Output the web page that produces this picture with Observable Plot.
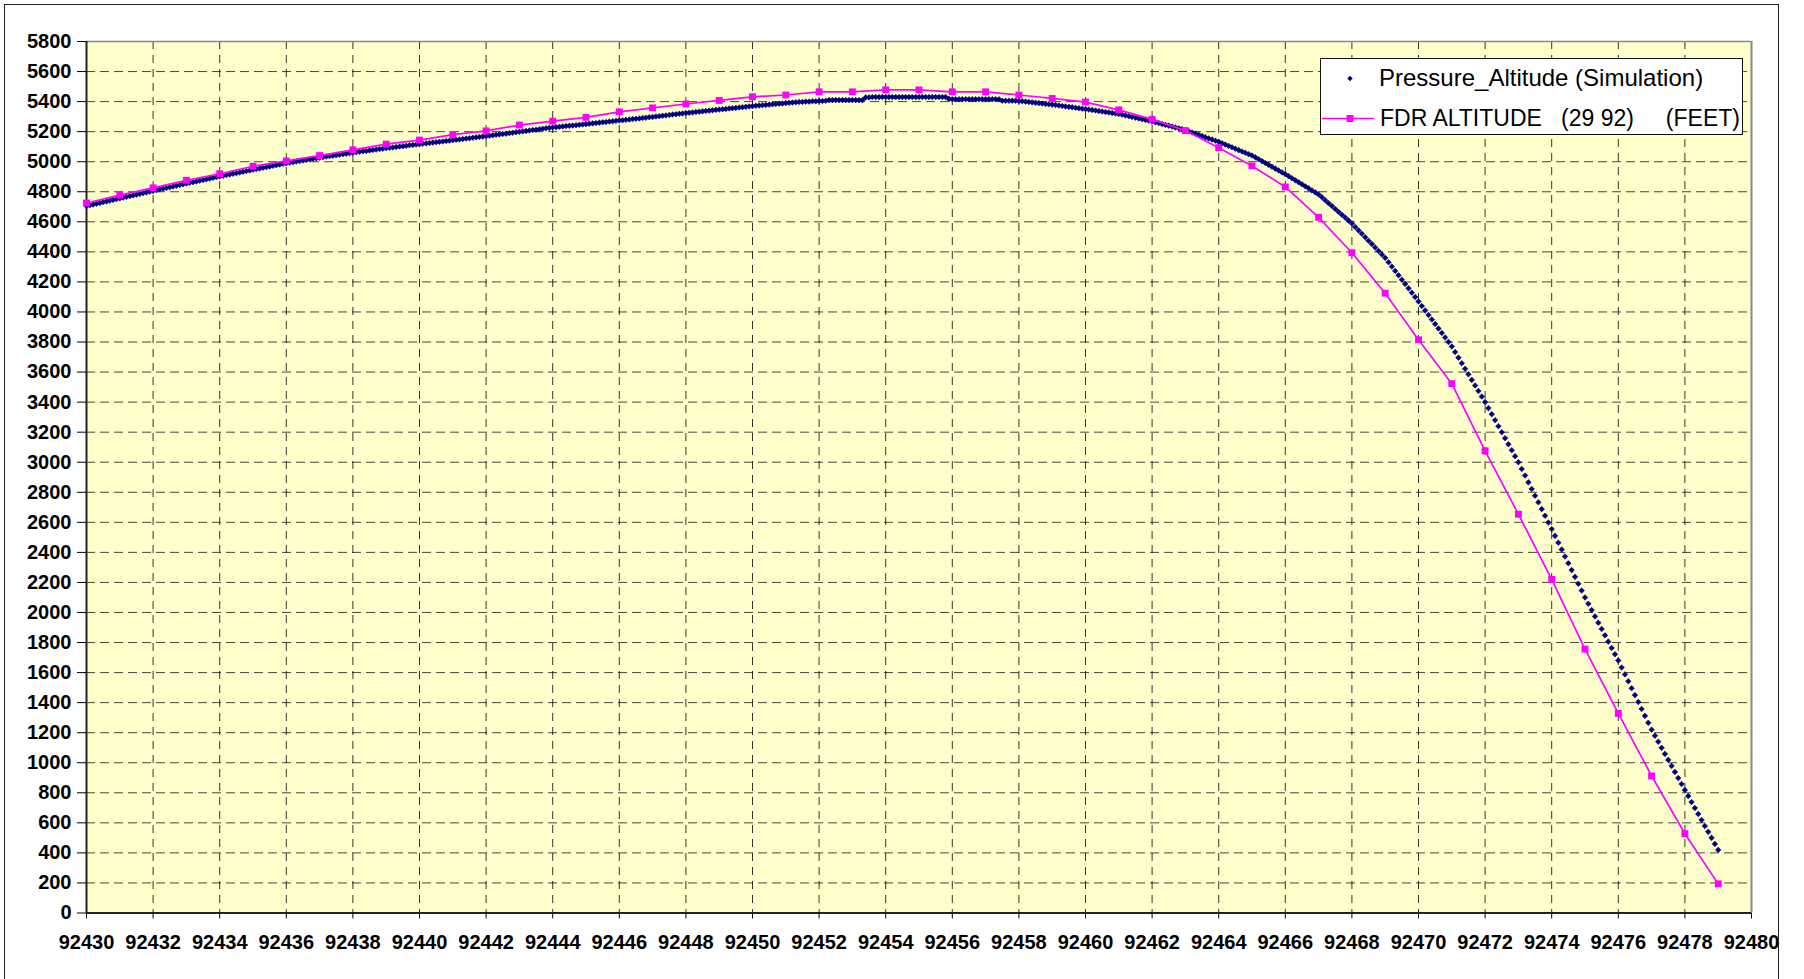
<!DOCTYPE html>
<html>
<head>
<meta charset="utf-8">
<script src="https://cdn.jsdelivr.net/npm/d3@7"></script>
<script src="https://cdn.jsdelivr.net/npm/@observablehq/plot@0.6"></script>
<style>
  html, body { margin: 0; padding: 0; background: #fff; }
  #wrap { position: relative; width: 1804px; height: 979px; overflow: hidden; font-family: "Liberation Sans", Arial, sans-serif; }
  #frame { position: absolute; left: 4px; top: 4px; width: 1775px; height: 1100px; border: 1.5px solid #222; box-sizing: border-box; pointer-events: none; }
  #legend { position: absolute; left: 1320px; top: 58px; width: 423px; height: 77px; background: #fff; border: 1px solid #111; box-sizing: border-box; }
  .lt { position: absolute; color: #000; white-space: pre; line-height: 1; }
  #chart { position: absolute; left: 0; top: 0; }
</style>
</head>
<body>
<div id="wrap">
  <div id="chart"></div>
  <div id="frame"></div>
  <div id="legend">
    <svg width="60" height="77" style="position:absolute;left:0;top:0;overflow:visible">
      <path d="M29,16.8 L31.7,19.5 L29,22.2 L26.3,19.5 Z" fill="#000080"></path>
      <line x1="1" x2="53" y1="59.5" y2="59.5" stroke="#ff00ff" stroke-width="1.7"></line>
      <rect x="25.5" y="56" width="7" height="7" fill="#ff00ff"></rect>
    </svg>
    <div class="lt" style="left:58px;top:7px;font-size:24px">Pressure_Altitude (Simulation)</div>
    <div class="lt" style="left:59px;top:47.5px;font-size:23px">FDR ALTITUDE   (29 92)     (FEET)</div>
  </div>
</div>
<script>
// ---- data ----
const xTicks = [92430, 92432, 92434, 92436, 92438, 92440, 92442, 92444, 92446, 92448, 92450, 92452, 92454, 92456, 92458, 92460, 92462, 92464, 92466, 92468, 92470, 92472, 92474, 92476, 92478, 92480];
const yTicks = [0, 200, 400, 600, 800, 1000, 1200, 1400, 1600, 1800, 2000, 2200, 2400, 2600, 2800, 3000, 3200, 3400, 3600, 3800, 4000, 4200, 4400, 4600, 4800, 5000, 5200, 5400, 5600, 5800];

const fdrTime = [92430, 92431, 92432, 92433, 92434, 92435, 92436, 92437, 92438, 92439,
                 92440, 92441, 92442, 92443, 92444, 92445, 92446, 92447, 92448, 92449,
                 92450, 92451, 92452, 92453, 92454, 92455, 92456, 92457, 92458, 92459,
                 92460, 92461, 92462, 92463, 92464, 92465, 92466, 92467, 92468, 92469,
                 92470, 92471, 92472, 92473, 92474, 92475, 92476, 92477, 92478, 92479];
const fdrAlt = [4725, 4778, 4826, 4876, 4920, 4970, 5005, 5041, 5079, 5117,
                5144, 5180, 5205, 5244, 5270, 5295, 5332, 5358, 5384, 5408,
                5432, 5444, 5465, 5465, 5478, 5478, 5465, 5465, 5444, 5421,
                5397, 5345, 5282, 5207, 5093, 4972, 4832, 4630, 4394, 4125,
                3815, 3523, 3076, 2654, 2220, 1756, 1328, 912, 528, 194];

// simulation samples every 0.1 from 92430.0 to 92479.0
const simStart = 92430;
const simStep = 0.1;
const simAlt = [
4705,4710,4715,4720,4726,4731,4736,4741,4746,4751,
4756,4761,4766,4771,4776,4781,4786,4791,4796,4801,
4806,4811,4816,4821,4825,4830,4835,4840,4845,4850,
4855,4860,4864,4869,4874,4878,4883,4888,4893,4897,
4902,4906,4911,4915,4920,4924,4929,4933,4938,4942,
4947,4951,4955,4960,4964,4968,4973,4977,4981,4986,
4990,4994,4997,5001,5005,5008,5012,5016,5020,5023,
5027,5030,5034,5037,5040,5043,5047,5050,5053,5057,
5060,5063,5066,5069,5072,5075,5078,5081,5084,5087,
5090,5093,5095,5098,5101,5103,5106,5109,5111,5114,
5117,5120,5122,5125,5127,5130,5133,5135,5138,5140,
5143,5146,5148,5151,5154,5156,5159,5162,5165,5167,
5170,5173,5176,5179,5182,5184,5187,5190,5193,5196,
5199,5202,5205,5208,5211,5213,5216,5219,5222,5225,
5228,5230,5232,5235,5237,5239,5241,5243,5246,5248,
5250,5252,5255,5257,5260,5262,5264,5267,5269,5272,
5274,5276,5279,5281,5284,5286,5288,5291,5293,5296,
5298,5301,5303,5306,5308,5311,5314,5316,5319,5321,
5324,5326,5328,5331,5333,5335,5338,5340,5342,5345,
5347,5349,5351,5354,5356,5358,5361,5363,5365,5368,
5370,5372,5374,5376,5378,5380,5382,5384,5386,5388,
5390,5392,5394,5396,5398,5398,5400,5400,5402,5402,
5404,5404,5406,5410,5410,5410,5410,5410,5410,5410,
5410,5410,5410,5410,5428,5428,5430,5430,5430,5430,
5430,5430,5430,5430,5430,5430,5430,5430,5430,5430,
5430,5430,5430,5430,5430,5430,5430,5430,5430,5418,
5416,5416,5416,5416,5416,5416,5416,5416,5416,5416,
5416,5416,5416,5416,5416,5406,5406,5406,5406,5406,
5404,5402,5400,5398,5395,5392,5390,5387,5384,5382,
5380,5377,5374,5371,5368,5365,5362,5359,5356,5353,
5350,5347,5344,5341,5337,5334,5331,5328,5324,5321,
5318,5313,5308,5303,5298,5293,5288,5283,5278,5273,
5268,5262,5257,5251,5245,5240,5234,5228,5222,5217,
5211,5203,5195,5187,5179,5171,5163,5155,5148,5140,
5132,5123,5114,5105,5096,5086,5077,5068,5059,5050,
5041,5029,5016,5004,4991,4979,4967,4954,4942,4929,
4917,4904,4890,4877,4863,4850,4836,4823,4809,4796,
4782,4763,4743,4724,4705,4685,4666,4647,4628,4608,
4589,4566,4543,4520,4497,4474,4452,4429,4406,4383,
4360,4331,4302,4273,4244,4215,4186,4157,4128,4099,
4070,4040,4010,3980,3950,3920,3890,3860,3830,3800,
3770,3733,3696,3659,3622,3585,3548,3511,3474,3437,
3400,3360,3320,3280,3240,3200,3160,3120,3080,3040,
3000,2955,2911,2866,2822,2777,2733,2688,2644,2599,
2555,2510,2464,2419,2373,2328,2282,2237,2191,2146,
2100,2058,2016,1974,1932,1890,1848,1806,1764,1722,
1680,1634,1588,1542,1496,1450,1404,1358,1312,1266,
1220,1180,1140,1099,1059,1019,979,939,898,858,
818,778,738,699,659,619,579,540,500,460,
420
];

const fdr = fdrTime.map((t, i) => ({t, alt: fdrAlt[i]}));
const sim = simAlt.map((alt, i) => ({t: Math.round((simStart + i * simStep) * 10) / 10, alt}));

const chart = Plot.plot({
  width: 1804,
  height: 979,
  marginLeft: 86,
  marginRight: 53,
  marginTop: 41,
  marginBottom: 66.5,
  style: {
    fontFamily: '"Liberation Sans", Arial, sans-serif',
    fontSize: "20px",
    fontWeight: "bold",
    color: "#000",
    background: "transparent",
    overflow: "visible"
  },
  x: {domain: [92430, 92480], axis: null},
  y: {domain: [0, 5800], axis: null},
  marks: [
    Plot.frame({fill: "#FFFFCC", stroke: null}),
    Plot.ruleY(yTicks.filter(d => d > 0 && d < 5800), {stroke: "#000", strokeOpacity: 0.72, strokeWidth: 1, strokeDasharray: "9,5"}),
    Plot.ruleX(xTicks.filter(d => d > 92430 && d < 92480), {stroke: "#000", strokeOpacity: 0.8, strokeWidth: 1, strokeDasharray: "8,6"}),
    Plot.ruleY([5800], {stroke: "#888", strokeWidth: 1.5}),
    Plot.ruleX([92480], {stroke: "#888", strokeWidth: 2}),
    Plot.ruleX([92430], {stroke: "#222", strokeWidth: 2}),
    Plot.ruleY([0], {stroke: "#222", strokeWidth: 2}),
    Plot.axisY({ticks: yTicks, tickSize: 9, tickPadding: 6, tickFormat: d => String(d), label: null, fontSize: 20, fontWeight: "bold"}),
    Plot.axisX({ticks: xTicks, tickSize: 6, tickPadding: 16, tickFormat: d => String(d), label: null, fontSize: 20, fontWeight: "bold"}),
    Plot.dot(sim, {x: "t", y: "alt", symbol: "diamond2", r: 2.5, fill: "#000080", stroke: "#000080", strokeWidth: 0.6}),
    Plot.line(fdr, {x: "t", y: "alt", stroke: "#FF00FF", strokeWidth: 1.7}),
    Plot.dot(fdr, {x: "t", y: "alt", symbol: "square", r: 3.9, fill: "#FF00FF", stroke: null})
  ]
});
document.getElementById("chart").appendChild(chart);
</script>
</body>
</html>
